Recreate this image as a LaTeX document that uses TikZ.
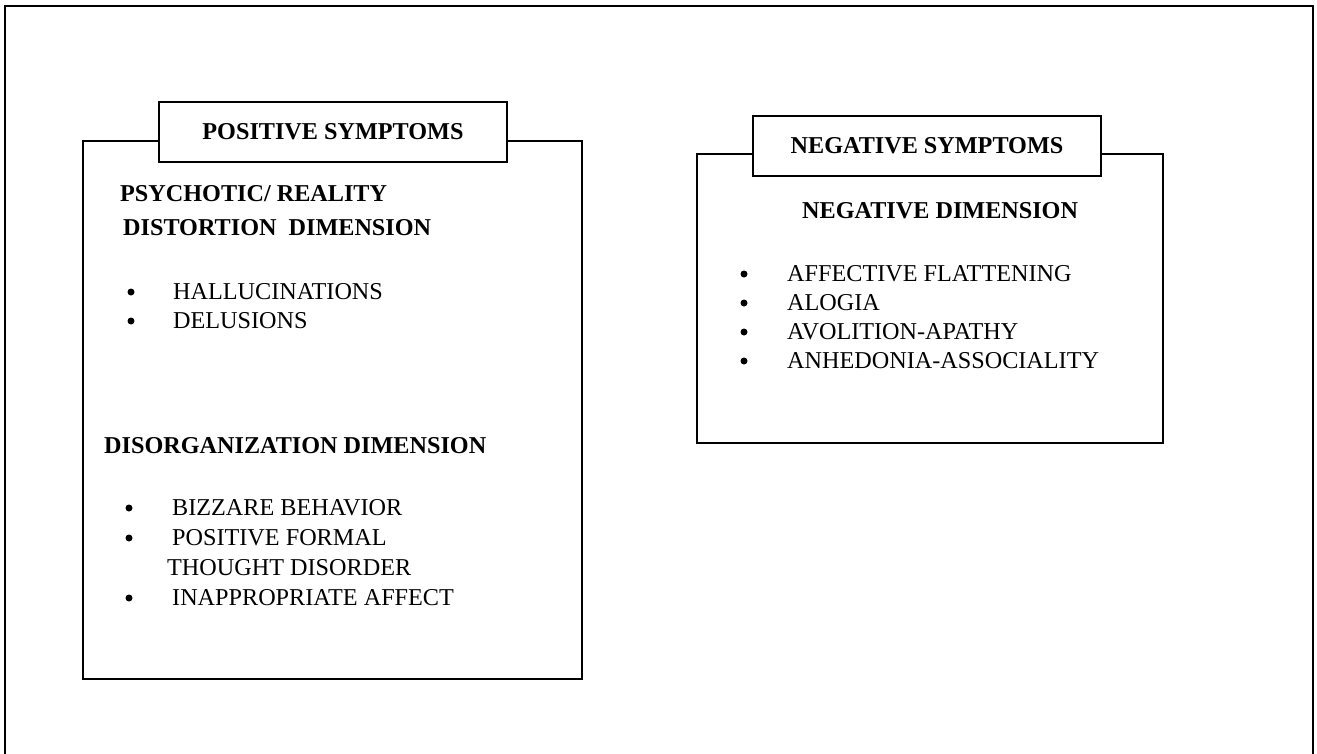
\documentclass[tikz,border=0pt]{standalone}
\usepackage{fontspec}
\setmainfont{Liberation Serif}
\begin{document}
\begin{tikzpicture}[x=1pt,y=-1pt,
  frame/.style={draw, line width=2pt},
  titlebox/.style={draw, fill=white, line width=2pt, inner sep=0,
    font=\fontsize{24.2}{27}\selectfont\bfseries},
  head/.style={font=\fontsize{24.2}{27}\selectfont\bfseries, inner sep=0, anchor=base west},
  item/.style={font=\fontsize{24.2}{27}\selectfont, inner sep=0, anchor=base west},
  dot/.style={circle, fill, inner sep=0, minimum size=7pt}]
\useasboundingbox (0,0) rectangle (1317,753);

% outer page frame (its lower edge runs off the page)
\draw[frame] (5,6) rectangle (1313,780);

% ---------- positive symptoms ----------
\draw[frame] (83,141) rectangle (582,679);
\node[titlebox, minimum width=348pt, minimum height=60pt] (postitle) at (333,132) {POSITIVE SYMPTOMS};

\node[head] (psy1) at (120,201) {PSYCHOTIC/ REALITY};
\node[head] (psy2) at (123,235) {DISTORTION\ \ DIMENSION};

\node[dot] (b1) at (131,292) {};
\node[item] (hal) at (173,299) {HALLUCINATIONS};
\node[dot] (b2) at (131,321) {};
\node[item] (del) at (173,328) {DELUSIONS};

\node[head] (dis) at (104,453) {DISORGANIZATION DIMENSION};

\node[dot] (b3) at (129,508) {};
\node[item] (biz) at (172,515) {BIZZARE BEHAVIOR};
\node[dot] (b4) at (129,538) {};
\node[item] (pfo) at (172,545) {POSITIVE FORMAL};
\node[item] (tho) at (167,575) {THOUGHT DISORDER};
\node[dot] (b5) at (129,598) {};
\node[item] (ina) at (172,605) {INAPPROPRIATE AFFECT};

% ---------- negative symptoms ----------
\draw[frame] (697,154) rectangle (1163,443);
\node[titlebox, minimum width=348pt, minimum height=60pt] (negtitle) at (927,146) {NEGATIVE SYMPTOMS};

\node[head] (ndim) at (802,218) {NEGATIVE DIMENSION};

\node[dot] (n1) at (744,274) {};
\node[item] (aff) at (787,281) {AFFECTIVE FLATTENING};
\node[dot] (n2) at (744,303) {};
\node[item] (alo) at (787,310) {ALOGIA};
\node[dot] (n3) at (744,332) {};
\node[item] (avo) at (787,339) {AVOLITION-APATHY};
\node[dot] (n4) at (744,361) {};
\node[item] (anh) at (787,368) {ANHEDONIA-ASSOCIALITY};
\end{tikzpicture}
\end{document}
